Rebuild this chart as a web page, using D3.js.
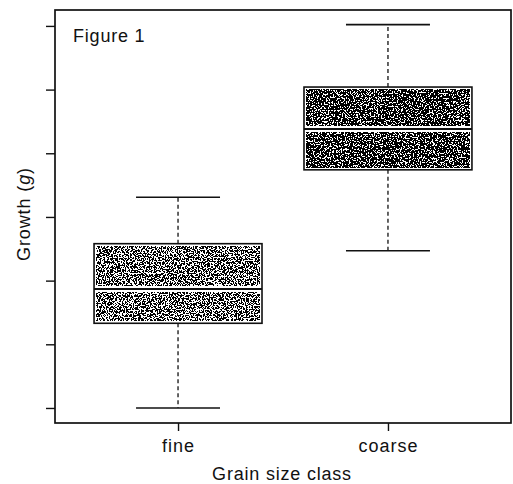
<!DOCTYPE html>
<html>
<head>
<meta charset="utf-8">
<script src="https://cdn.jsdelivr.net/npm/d3@7"></script>
<style>
  body { margin: 0; background: #fff; }
  svg text { font-family: "Liberation Sans", Arial, sans-serif; fill: #111; }
</style>
</head>
<body>
<svg id="chart" width="513" height="484"></svg>
<script>
// Boxplot stats (y axis has no labels, ticks at 1..7)
const categories = ["fine", "coarse"];
const whiskerLow = [1.0, 3.47];
const q1 = [2.33, 4.74];
const median = [2.87, 5.38];
const q3 = [3.58, 6.04];
const whiskerHigh = [4.31, 7.02];
const yTicks = [1, 2, 3, 4, 5, 6, 7];

const svg = d3.select("#chart");
const frame = { left: 55, top: 10, right: 511, bottom: 423 };

const x = d3.scalePoint()
    .domain(categories)
    .range([frame.left, frame.right])
    .padding(0.586);

const y = d3.scaleLinear()
    .domain([0.764, 7.25])
    .range([frame.bottom, frame.top]);

const step = x.step();
const boxW = step * 0.8;
const capW = step * 0.4;

// speckled scan-like texture
const defs = svg.append("defs");
function noiseFilter(id, cut, seed) {
    const f = defs.append("filter").attr("id", id)
        .attr("x", 0).attr("y", 0).attr("width", 1).attr("height", 1);
    f.append("feTurbulence").attr("type", "fractalNoise")
        .attr("baseFrequency", 0.75).attr("numOctaves", 2).attr("seed", seed);
    f.append("feColorMatrix").attr("type", "saturate").attr("values", 0);
    const ct = f.append("feComponentTransfer");
    const table = d3.range(20).map(i => i < cut ? 0 : 1).join(" ");
    ["feFuncR", "feFuncG", "feFuncB"].forEach(fn =>
        ct.append(fn).attr("type", "discrete").attr("tableValues", table));
    ct.append("feFuncA").attr("type", "table").attr("tableValues", "1 1");
}
noiseFilter("noise0", 10, 4);
noiseFilter("noise1", 11, 9);

const data = categories.map((c, i) => ({
    c, i, lo: whiskerLow[i], q1: q1[i], med: median[i], q3: q3[i], hi: whiskerHigh[i]
}));

const g = svg.append("g");

// whiskers
g.selectAll(".whisker").data(data).join("g").each(function(d) {
    const s = d3.select(this);
    const cx = x(d.c);
    [[d.q3, d.hi], [d.q1, d.lo]].forEach(([a, b]) => {
        s.append("line").attr("x1", cx).attr("x2", cx)
            .attr("y1", y(a)).attr("y2", y(b))
            .attr("stroke", "#111").attr("stroke-width", 1.3)
            .attr("stroke-dasharray", "4,3");
        s.append("line").attr("x1", cx - capW / 2).attr("x2", cx + capW / 2)
            .attr("y1", y(b)).attr("y2", y(b))
            .attr("stroke", "#111").attr("stroke-width", 1.6);
    });
});

// boxes
g.selectAll(".box").data(data).join("g").each(function(d) {
    const s = d3.select(this);
    const cx = x(d.c);
    const x0 = cx - boxW / 2;
    s.append("rect").attr("x", x0).attr("y", y(d.q3))
        .attr("width", boxW).attr("height", y(d.q1) - y(d.q3))
        .attr("fill", "#fff").attr("stroke", "#111").attr("stroke-width", 1.6);
    s.append("rect").attr("x", x0 + 2.5).attr("y", y(d.q3) + 2.5)
        .attr("width", boxW - 5).attr("height", y(d.q1) - y(d.q3) - 5)
        .attr("filter", `url(#noise${d.i})`);
    s.append("line").attr("x1", x0 + 1).attr("x2", x0 + boxW - 1)
        .attr("y1", y(d.med)).attr("y2", y(d.med))
        .attr("stroke", "#fff").attr("stroke-width", 6);
    s.append("line").attr("x1", x0).attr("x2", x0 + boxW)
        .attr("y1", y(d.med)).attr("y2", y(d.med))
        .attr("stroke", "#111").attr("stroke-width", 2);
});

// frame
svg.append("rect")
    .attr("x", frame.left).attr("y", frame.top)
    .attr("width", frame.right - frame.left).attr("height", frame.bottom - frame.top)
    .attr("fill", "none").attr("stroke", "#111").attr("stroke-width", 1.7);

// axes
const yAxis = svg.append("g")
    .attr("transform", `translate(${frame.left},0)`)
    .call(d3.axisLeft(y).tickValues(yTicks).tickSize(9).tickFormat(""));
yAxis.select(".domain").remove();
yAxis.selectAll("line").attr("stroke", "#111").attr("stroke-width", 1.4);

const xAxis = svg.append("g")
    .attr("transform", `translate(0,${frame.bottom})`)
    .call(d3.axisBottom(x).tickSize(8).tickPadding(0));
xAxis.select(".domain").remove();
xAxis.selectAll("line").attr("stroke", "#111").attr("stroke-width", 1.4);
xAxis.selectAll("text")
    .attr("dy", null).attr("y", 29)
    .attr("font-size", 18).attr("letter-spacing", 1)
    .style("font-family", "'Liberation Sans', Arial, sans-serif").attr("fill", "#111");

// labels
svg.append("text").attr("x", 73).attr("y", 42)
    .attr("font-size", 18).attr("letter-spacing", 0.8).text("Figure 1");

svg.append("text")
    .attr("x", (frame.left + frame.right) / 2 - 1).attr("y", 480)
    .attr("text-anchor", "middle").attr("font-size", 18).attr("letter-spacing", 0.8)
    .text("Grain size class");

const yl = svg.append("text")
    .attr("transform", "translate(30,214) rotate(-90)")
    .attr("text-anchor", "middle").attr("font-size", 18).attr("letter-spacing", 0.9);
yl.append("tspan").text("Growth (");
yl.append("tspan").attr("font-style", "italic").text("g");
yl.append("tspan").text(")");
</script>
</body>
</html>
